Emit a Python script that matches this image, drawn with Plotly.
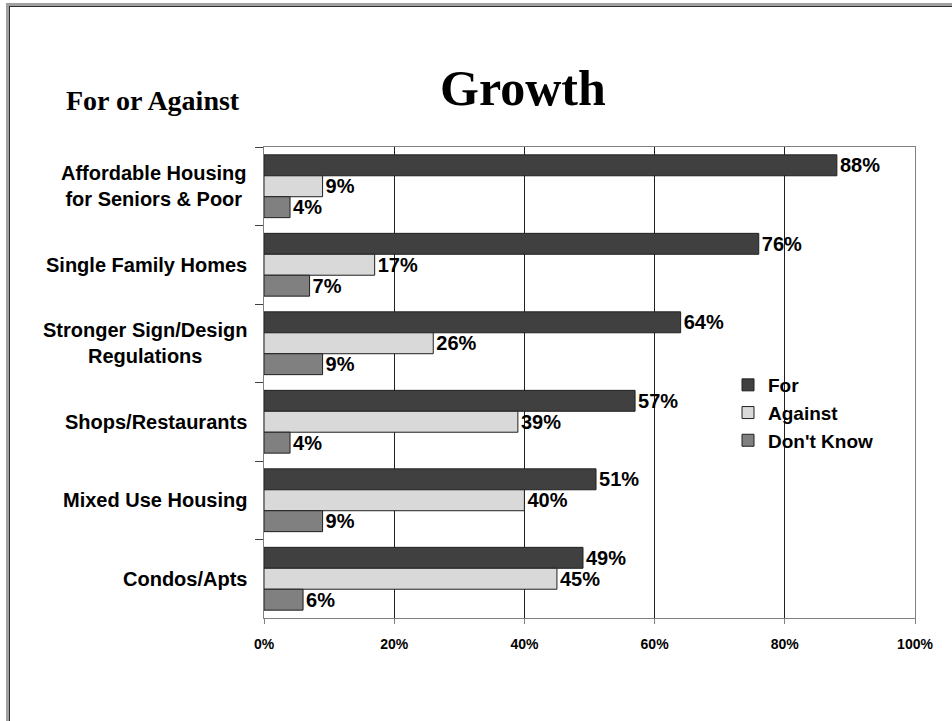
import plotly.graph_objects as go

# Survey results: share of respondents for / against each type of growth
categories = [
    "Affordable Housing<br>for Seniors & Poor",
    "Single Family Homes",
    "Stronger Sign/Design<br>Regulations",
    "Shops/Restaurants",
    "Mixed Use Housing",
    "Condos/Apts",
]
series_names = ["For", "Against", "Don't Know"]
for_vals = [88, 76, 64, 57, 51, 49]
against_vals = [9, 17, 26, 39, 40, 45]
dontknow_vals = [4, 7, 9, 4, 9, 6]
x_ticks = [0, 20, 40, 60, 80, 100]
x_ticklabels = ["0%", "20%", "40%", "60%", "80%", "100%"]

colors = ["#404040", "#D9D9D9", "#808080"]

W, H = 952, 721
ML, MR, MT, MB = 264, 37, 147, 103
PW, PH = W - ML - MR, H - MT - MB


def px_x(px):
    return (px - ML) / PW


def px_y(py):
    return (H - MB - py) / PH


SANS = "Liberation Sans, Arial, sans-serif"
SERIF = "Liberation Serif, Times New Roman, serif"

fig = go.Figure()
for name, vals, col in zip(series_names, [for_vals, against_vals, dontknow_vals], colors):
    fig.add_trace(go.Bar(
        y=categories,
        x=vals,
        name=name,
        orientation="h",
        marker=dict(color=col, line=dict(color="#202020", width=1)),
        text=[f"{v}%" for v in vals],
        textposition="outside",
        textfont=dict(family=SANS, size=20, color="black", weight="bold"),
        constraintext="none",
        cliponaxis=False,
        hoverinfo="skip",
    ))

# Category labels, centre-aligned multi-line blocks right of the axis
annotations = []
for c in categories:
    annotations.append(dict(
        x=px_x(249), xref="paper", y=c, yref="y",
        text=c, showarrow=False, xanchor="right", yanchor="middle",
        align="center",
        font=dict(family=SANS, size=20, color="black", weight="bold"),
    ))

annotations.append(dict(
    x=px_x(153), xref="paper", y=px_y(100), yref="paper",
    text="For or Against", showarrow=False, xanchor="center", yanchor="middle",
    font=dict(family=SERIF, size=28, color="black", weight="bold"),
))
annotations.append(dict(
    x=px_x(523), xref="paper", y=px_y(88), yref="paper",
    text="Growth", showarrow=False, xanchor="center", yanchor="middle",
    font=dict(family=SERIF, size=50, color="black", weight="bold"),
))

# Page frame: grey band with a dark inner edge along the top and left
shapes = [
    dict(type="rect", xref="paper", yref="paper",
         x0=px_x(6), x1=px_x(9), y0=px_y(H + 5), y1=px_y(3),
         fillcolor="#A0A0A0", line=dict(width=0), layer="above"),
    dict(type="rect", xref="paper", yref="paper",
         x0=px_x(9), x1=px_x(10), y0=px_y(H + 5), y1=px_y(6),
         fillcolor="#303030", line=dict(width=0), layer="above"),
    dict(type="rect", xref="paper", yref="paper",
         x0=px_x(6), x1=px_x(W + 5), y0=px_y(6), y1=px_y(3),
         fillcolor="#A0A0A0", line=dict(width=0), layer="above"),
    dict(type="rect", xref="paper", yref="paper",
         x0=px_x(9), x1=px_x(W + 5), y0=px_y(7), y1=px_y(6),
         fillcolor="#303030", line=dict(width=0), layer="above"),
]

fig.update_layout(
    width=W, height=H,
    margin=dict(l=ML, r=MR, t=MT, b=MB),
    paper_bgcolor="white", plot_bgcolor="white",
    barmode="group", bargap=0.2, bargroupgap=0,
    showlegend=True,
    legend=dict(
        x=px_x(728), y=px_y(366), xanchor="left", yanchor="top",
        traceorder="normal",
        font=dict(family=SANS, size=19, color="black", weight="bold"),
        bgcolor="rgba(0,0,0,0)",
    ),
    annotations=annotations,
    shapes=shapes,
)

fig.update_xaxes(
    range=[0, 100],
    tickvals=x_ticks, ticktext=x_ticklabels,
    tickfont=dict(family=SANS, size=14, color="black", weight="bold"),
    ticks="outside", ticklen=5, tickcolor="#808080",
    ticklabelstandoff=8,
    showgrid=True, gridcolor="#202020", gridwidth=1,
    showline=True, linecolor="#808080", linewidth=1, mirror=True,
    zeroline=False, fixedrange=True,
)
fig.update_yaxes(
    categoryorder="array", categoryarray=categories,
    autorange="reversed",
    showticklabels=False,
    ticks="outside", ticklen=8, tickcolor="#404040", tickson="boundaries",
    showgrid=False,
    showline=True, linecolor="#808080", linewidth=1, mirror=True,
    zeroline=False, fixedrange=True,
)

fig.write_html("out.html")
